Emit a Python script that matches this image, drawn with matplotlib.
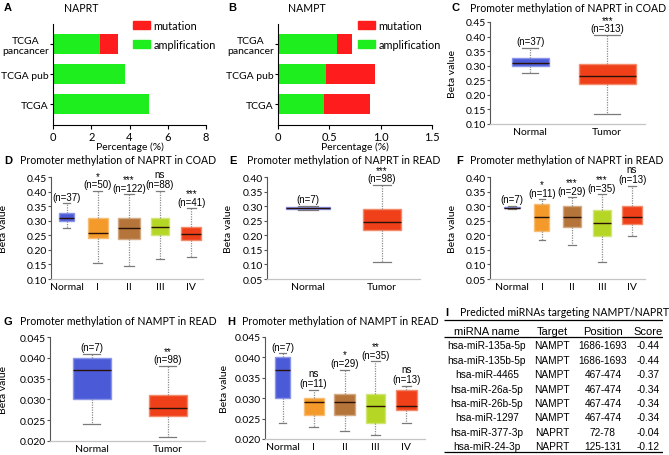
import matplotlib
matplotlib.use('Agg')
import matplotlib.pyplot as plt
from matplotlib.patches import Patch

plt.rcParams['font.family'] = ['Lato', 'DejaVu Sans']

W, H = 669, 456
fig = plt.figure(figsize=(W / 100, H / 100), dpi=100)


def add_ax(l, t, r, b):
    return fig.add_axes([l / W, 1 - b / H, (r - l) / W, (b - t) / H])


def px_text(x, y, s, **kw):
    fig.text(x / W, 1 - y / H, s, **kw)


# ---- data ----------------------------------------------------------------
sources = ['TCGA\npancancer', 'TCGA pub', 'TCGA']
naprt_amp = [2.45, 3.75, 5.0]
naprt_mut = [0.95, 0.0, 0.0]
nampt_amp = [0.57, 0.47, 0.45]
nampt_mut = [0.15, 0.47, 0.45]

two_groups = ['Normal', 'Tumor']
stages = ['Normal', 'I', 'II', 'III', 'IV']

# box stats: (whisker low, q1, median, q3, whisker high)
c_stats = [(0.275, 0.300, 0.310, 0.325, 0.362), (0.135, 0.237, 0.265, 0.305, 0.405)]
c_n = [37, 313]
c_sig = ['', '***']

d_stats = [(0.275, 0.300, 0.310, 0.325, 0.360), (0.155, 0.240, 0.258, 0.310, 0.402),
           (0.145, 0.238, 0.275, 0.310, 0.390), (0.170, 0.252, 0.277, 0.308, 0.402),
           (0.175, 0.233, 0.253, 0.280, 0.343)]
d_n = [37, 50, 122, 88, 41]
d_sig = ['', '*', '***', 'ns', '***']

e_stats = [(0.288, 0.290, 0.293, 0.297, 0.300), (0.107, 0.217, 0.247, 0.290, 0.372)]
e_n = [7, 98]
e_sig = ['', '***']

f_stats = [(0.290, 0.292, 0.295, 0.298, 0.300), (0.185, 0.215, 0.263, 0.308, 0.323),
           (0.167, 0.227, 0.262, 0.300, 0.330), (0.107, 0.197, 0.242, 0.287, 0.340),
           (0.198, 0.240, 0.263, 0.300, 0.370)]
f_n = [7, 11, 29, 35, 13]
f_sig = ['', '*', '***', '***', 'ns']

g_stats = [(0.024, 0.030, 0.037, 0.040, 0.041), (0.021, 0.026, 0.028, 0.031, 0.038)]
g_n = [7, 98]
g_sig = ['', '**']

h_stats = [(0.024, 0.030, 0.037, 0.040, 0.041), (0.023, 0.026, 0.029, 0.030, 0.032),
           (0.022, 0.026, 0.029, 0.031, 0.037), (0.021, 0.024, 0.028, 0.031, 0.039),
           (0.024, 0.027, 0.028, 0.032, 0.033)]
h_n = [7, 11, 29, 35, 13]
h_sig = ['', 'ns', '*', '**', 'ns']

mirna = ['hsa-miR-135a-5p', 'hsa-miR-135b-5p', 'hsa-miR-4465', 'hsa-miR-26a-5p',
         'hsa-miR-26b-5p', 'hsa-miR-1297', 'hsa-miR-377-3p', 'hsa-miR-24-3p']
targets = ['NAMPT'] * 6 + ['NAPRT'] * 2
positions = ['1686-1693', '1686-1693', '467-474', '467-474', '467-474', '467-474',
             '72-78', '125-131']
scores = ['-0.44', '-0.44', '-0.37', '-0.34', '-0.34', '-0.34', '-0.04', '-0.12']

# ---- colours -------------------------------------------------------------
GREEN = '#1eed1e'
RED = '#ff1c1c'
box_face = {'Normal': '#4b5bd8', 'Tumor': '#f0401a', 'I': '#f39a2b',
            'II': '#b5743a', 'III': '#b5d624', 'IV': '#f0401a'}
box_edge = {'Normal': '#8a94e8', 'Tumor': '#f58a6a', 'I': '#f7bd74',
            'II': '#d3aa84', 'III': '#d2e676', 'IV': '#f58a6a'}
ARIAL = ['Liberation Sans', 'DejaVu Sans']


# ---- A / B: stacked bars -------------------------------------------------
def bar_panel(ax, amp, mut, xmax, xticks):
    ypos = [2, 1, 0]
    ax.barh(ypos, amp, height=0.67, color=GREEN, label='amplification')
    ax.barh(ypos, mut, left=amp, height=0.67, color=RED, label='mutation')
    ax.set_ylim(-0.7, 2.67)
    ax.set_xlim(0, xmax)
    ax.set_xticks(xticks)
    ax.set_yticks(ypos)
    ax.set_yticklabels(sources, fontsize=7.5, multialignment='center')
    ax.tick_params(axis='x', labelsize=8, length=3, pad=1, width=0.8)
    ax.tick_params(axis='y', length=2, pad=1, width=0.8)
    ax.set_xlabel('Percentage (%)', fontsize=7.5, labelpad=0)
    for s in ['top', 'right']:
        ax.spines[s].set_visible(False)
    for s in ['left', 'bottom']:
        ax.spines[s].set_linewidth(0.8)
    handles = [Patch(color=RED, label='mutation'), Patch(color=GREEN, label='amplification')]
    ax.legend(handles=handles, loc='upper left', bbox_to_anchor=(0.52, 1.04),
              frameon=False, fontsize=7.8, handlelength=1.6, handleheight=0.75,
              labelspacing=0.7, borderpad=0, borderaxespad=0, handletextpad=0.3)


axA = add_ax(53, 25, 206, 126)
bar_panel(axA, naprt_amp, naprt_mut, 8, [0, 2, 4, 6, 8])
axB = add_ax(278, 25, 432, 126)
bar_panel(axB, nampt_amp, nampt_mut, 1.5, [0, 0.5, 1.0, 1.5])
axB.set_xticklabels(['0', '0.5', '1.0', '1.5'])


# ---- box plot panels -----------------------------------------------------
def box_panel(ax, labels, stats, ns, sigs, widths, xlim, ylim, yticks, fmt, ylab_x):
    bstats = [dict(whislo=s[0], q1=s[1], med=s[2], q3=s[3], whishi=s[4], label=l)
              for l, s in zip(labels, stats)]
    bp = ax.bxp(bstats, positions=range(len(labels)), widths=widths,
                capwidths=[w * 0.45 for w in widths], patch_artist=True,
                showfliers=False, manage_ticks=False,
                whiskerprops=dict(color='#8c8c8c', lw=0.9, ls=(0, (1, 1))),
                capprops=dict(color='#7a7a7a', lw=0.9),
                medianprops=dict(color='#2a1208', lw=1.0))
    for box, l in zip(bp['boxes'], labels):
        box.set_facecolor(box_face[l])
        box.set_edgecolor(box_edge[l])
        box.set_linewidth(1.0)
    # sample size with significance mark stacked above it (one text each)
    for i, (s, n, sig) in enumerate(zip(stats, ns, sigs)):
        if sig:
            txt = f'{sig}\n(n={n})'
            ls = 1.05 if sig == 'ns' else 0.8
        else:
            txt, ls = f'(n={n})', 1.0
        ax.annotate(txt, (i, s[4]), xytext=(0, 1.2), textcoords='offset points',
                    ha='center', va='bottom', fontsize=7, family=ARIAL,
                    linespacing=ls, annotation_clip=False)
    ax.set_xlim(*xlim)
    ax.set_ylim(*ylim)
    ax.set_yticks(yticks)
    ax.set_yticklabels([fmt % v for v in yticks])
    ax.set_xticks(range(len(labels)))
    ax.set_xticklabels(labels)
    ax.tick_params(axis='x', length=0, pad=2, labelsize=7.5)
    ax.tick_params(axis='y', length=2.5, pad=0.5, labelsize=7.5, width=0.8, color='#555555')
    for s in ['top', 'right']:
        ax.spines[s].set_visible(False)
    ax.spines['left'].set_color('#555555')
    ax.spines['left'].set_linewidth(0.8)
    ax.spines['bottom'].set_color('#c4c4c4')
    ax.spines['bottom'].set_linewidth(0.9)
    ax.set_ylabel('Beta value', fontsize=7.5)
    ax.yaxis.set_label_coords(ylab_x, 0.5)


yt1 = [0.10, 0.15, 0.20, 0.25, 0.30, 0.35, 0.40, 0.45]
yt2 = [0.05, 0.10, 0.15, 0.20, 0.25, 0.30, 0.35, 0.40]
yt3 = [0.020, 0.025, 0.030, 0.035, 0.040, 0.045]

axC = add_ax(490, 23, 645, 125)
box_panel(axC, two_groups, c_stats, c_n, c_sig, [0.48, 0.74], (-0.52, 1.49),
          (0.10, 0.45), yt1, '%.2f', (457 - 490) / 155)

axD = add_ax(51, 178, 203, 280)
box_panel(axD, stages, d_stats, d_n, d_sig, [0.5, 0.65, 0.72, 0.58, 0.65],
          (-0.5, 4.38), (0.10, 0.45), yt1, '%.2f', (8 - 51) / 152)

axE = add_ax(267, 178, 420, 280)
box_panel(axE, two_groups, e_stats, e_n, e_sig, [0.6, 0.52], (-0.55, 1.51),
          (0.05, 0.40), yt2, '%.2f', (233 - 267) / 153)

axF = add_ax(490, 178, 645, 280)
box_panel(axF, stages, f_stats, f_n, f_sig, [0.55, 0.5, 0.57, 0.57, 0.65],
          (-0.73, 4.43), (0.05, 0.40), yt2, '%.2f', (457 - 490) / 155)

axG = add_ax(50, 338, 205, 442)
box_panel(axG, two_groups, g_stats, g_n, g_sig, [0.5, 0.5], (-0.55, 1.49),
          (0.020, 0.045), yt3, '%.3f', (8 - 50) / 155)

axH = add_ax(265, 338, 425, 440)
box_panel(axH, stages, h_stats, h_n, h_sig, [0.5, 0.65, 0.65, 0.6, 0.7],
          (-0.57, 4.6), (0.020, 0.045), yt3, '%.3f', (229 - 265) / 160)

# ---- I: table ------------------------------------------------------------
axI = add_ax(444, 316, 663, 456)
axI.axis('off')
axI.set_xlim(0, 1)
axI.set_ylim(8.61, -1.11)
col_x = [0.196, 0.493, 0.726, 0.932]
header = ['miRNA name', 'Target', 'Position', 'Score']
for x, h in zip(col_x, header):
    axI.text(x, 0, h, ha='center', va='center', fontsize=8, family=ARIAL)
for i in range(len(mirna)):
    row = [mirna[i], targets[i], positions[i], scores[i]]
    for x, v in zip(col_x, row):
        axI.text(x, i + 1, v, ha='center', va='center', fontsize=7.3, family=ARIAL)
axI.hlines([-0.76, 0.42, 8.4], 0, 1, color='black', lw=0.9)

# ---- titles and panel letters ---------------------------------------------
letter = dict(fontsize=8, fontweight='bold', family=ARIAL, va='center', ha='left')
ttl = dict(fontsize=7.6, va='center', ha='left')

px_text(4, 8, 'A', **letter)
px_text(81, 8, 'NAPRT', fontsize=7.6, va='center', ha='center')
px_text(228, 8, 'B', **letter)
px_text(307, 8, 'NAMPT', fontsize=7.6, va='center', ha='center')
px_text(452, 8, 'C', **letter)
px_text(470, 8, 'Promoter methylation of NAPRT in COAD', **ttl)
px_text(4, 161, 'D', **letter)
px_text(20, 161, 'Promoter methylation of NAPRT in COAD', **ttl)
px_text(229, 161, 'E', **letter)
px_text(247, 161, 'Promoter methylation of NAPRT in READ', **ttl)
px_text(456, 161, 'F', **letter)
px_text(470, 161, 'Promoter methylation of NAPRT in READ', **ttl)
px_text(4, 322, 'G', **letter)
px_text(20, 322, 'Promoter methylation of NAMPT in READ', **ttl)
px_text(227, 322, 'H', **letter)
px_text(242, 322, 'Promoter methylation of NAMPT in READ', **ttl)
px_text(445, 313, 'I', **letter)
px_text(460, 313, 'Predicted miRNAs targeting NAMPT/NAPRT', **ttl)

fig.savefig('out.png', dpi=100)
